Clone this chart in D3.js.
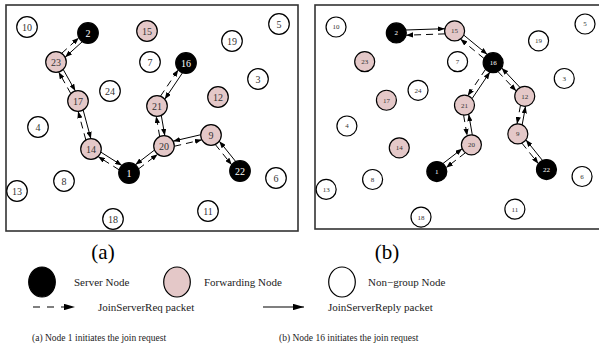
<!DOCTYPE html>
<html><head><meta charset="utf-8">
<script src="https://cdn.jsdelivr.net/npm/d3@7"></script>
<style>body{margin:0;background:#fff}svg{display:block}text{font-family:"Liberation Serif","DejaVu Serif","Times New Roman",Times,serif}</style>
</head><body>
<script>
// ---- data ----
const nodeIds = [1,2,3,4,5,6,7,8,9,10,11,12,13,14,15,16,17,18,19,20,21,22,23,24];
const nodeX   = [123,82,252,32,273,270,144,58,205,21,202,212,11,85,141,180,72,107,226,158,151,234,50,104];
const nodeY   = [168,28,74,122,19,173,57,176,130,22,206,92,186,144,26,58,96,214,36,141,101,166,57,86];
const serverNodes = [1,2,16,22];
const forwardingNodes = [9,12,14,15,17,20,21,23];
// request (dashed) from -> to; reply (solid) goes back; side = which side the pair sits
const reqFromA = [1,14,17,23,1,20,21,20,9];
const reqToA   = [14,17,23,2,20,21,16,9,22];
const sideA    = [1,1,1,1,-1,1,1,-1,-1];
const reqFromB = [16,15,16,21,20,16,12,9];
const reqToB   = [15,2,21,20,1,12,9,22];
const sideB    = [1,1,-1,-1,1,-1,-1,-1];
const panelLabels = ["(a)","(b)"];
const captions = ["(a) Node 1 initiates the join request","(b) Node 16 initiates the join request"];
const legendNodes = ["Server Node","Forwarding Node","Non\u2212group Node"];
const legendLinks = ["JoinServerReq packet","JoinServerReply packet"];

const W=599,H=350;
const svg=d3.select("body").append("svg").attr("width",W).attr("height",H);
const PINK="#e4c8c8";
const defs=svg.append("defs");
function mk(id,len,hw){
  defs.append("marker").attr("id",id).attr("markerUnits","userSpaceOnUse")
    .attr("viewBox",`0 ${-hw} ${len} ${2*hw}`).attr("refX",len).attr("refY",0)
    .attr("markerWidth",len).attr("markerHeight",2*hw).attr("orient","auto")
    .append("path").attr("d",`M0,${-hw}L${len},0L0,${hw}Z`).attr("fill","#000");
}
mk("ah",7,2.6); mk("ahL",11,3.2);

const nodes=nodeIds.map((id,i)=>({id,x:nodeX[i],y:nodeY[i],
  type: serverNodes.includes(id)?"s":(forwardingNodes.includes(id)?"f":"n")}));
const byId=new Map(nodes.map(n=>[n.id,n]));

const panels=[
  {x:d3.scaleLinear().domain([0,292]).range([6,298]), y:d3.scaleLinear().domain([0,226]).range([5,231]),
   r:10.3, fs:10, from:reqFromA,to:reqToA,side:sideA, box:[6,5,298,231]},
  {x:d3.scaleLinear().domain([0,292]).range([315.3,603.8]), y:d3.scaleLinear().domain([0,226]).range([5.2,229]),
   r:10, fs:7, from:reqFromB,to:reqToB,side:sideB, box:[315,5,610,229]}
];

panels.forEach((p,pi)=>{
  const g=svg.append("g");
  g.append("rect").attr("x",p.box[0]).attr("y",p.box[1]).attr("width",p.box[2]-p.box[0]).attr("height",p.box[3]-p.box[1])
    .attr("fill","none").attr("stroke","#333").attr("stroke-width",1.6);
  const links=[];
  p.from.forEach((f,i)=>{
    links.push({a:f,b:p.to[i],s:p.side[i],dash:true});
    links.push({a:p.to[i],b:f,s:p.side[i],dash:false});
  });
  const d=2.6;
  g.selectAll("line.l").data(links).join("line").attr("class","l")
    .each(function(l){
      const A=byId.get(l.a),B=byId.get(l.b);
      const ax=p.x(A.x),ay=p.y(A.y),bx=p.x(B.x),by=p.y(B.y);
      const L=Math.hypot(bx-ax,by-ay),ux=(bx-ax)/L,uy=(by-ay)/L;
      const nx=uy*l.s*d, ny=-ux*l.s*d;
      const rr=Math.sqrt(p.r*p.r-d*d);
      d3.select(this).attr("x1",ax+ux*rr+nx).attr("y1",ay+uy*rr+ny)
        .attr("x2",bx-ux*rr+nx).attr("y2",by-uy*rr+ny);
    })
    .attr("stroke","#000").attr("stroke-width",1)
    .attr("stroke-dasharray",l=>l.dash?"7,5":null)
    .attr("marker-end","url(#ah)");
  const ng=g.selectAll("g.n").data(nodes).join("g").attr("class","n")
    .attr("transform",n=>`translate(${p.x(n.x)},${p.y(n.y)})`);
  ng.append("circle").attr("r",p.r)
    .attr("fill",n=>n.type==="s"?"#000":n.type==="f"?PINK:"#fff")
    .attr("stroke","#000").attr("stroke-width",1.2);
  ng.append("text").text(n=>n.id).attr("text-anchor","middle").attr("dy","0.35em")
    .attr("font-size",p.fs)
    .attr("fill",n=>n.type==="s"?"#fff":"#333");
});

// panel labels
const lx=[103,387];
svg.selectAll("text.pl").data(panelLabels).join("text").attr("class","pl")
  .attr("x",(d,i)=>lx[i]).attr("y",259).attr("text-anchor","middle")
  .attr("font-size",21).text(d=>d);

// legend nodes
const lnx=[42,177,342], ltx=[74,204,368], lfill=["#000",PINK,"#fff"];
legendNodes.forEach((t,i)=>{
  svg.append("ellipse").attr("cx",lnx[i]).attr("cy",282).attr("rx",13.3).attr("ry",15)
    .attr("fill",lfill[i]).attr("stroke","#000").attr("stroke-width",1.2);
  svg.append("text").attr("x",ltx[i]).attr("y",286)
    .attr("font-size",11).attr("fill","#222").text(t);
});
// legend links
svg.append("line").attr("x1",33).attr("y1",307).attr("x2",75).attr("y2",307)
  .attr("stroke","#000").attr("stroke-width",1.2).attr("stroke-dasharray","7,7").attr("marker-end","url(#ahL)");
svg.append("line").attr("x1",263).attr("y1",307).attr("x2",304).attr("y2",307)
  .attr("stroke","#000").attr("stroke-width",1.2).attr("marker-end","url(#ahL)");
const llx=[98,328];
legendLinks.forEach((t,i)=>svg.append("text").attr("x",llx[i]).attr("y",311)
  .attr("font-size",11).attr("fill","#222").text(t));
// captions
const cx=[32,279];
captions.forEach((t,i)=>svg.append("text").attr("x",cx[i]).attr("y",341)
  .attr("font-size",9.5).attr("fill","#222").text(t));
</script>
</body></html>
